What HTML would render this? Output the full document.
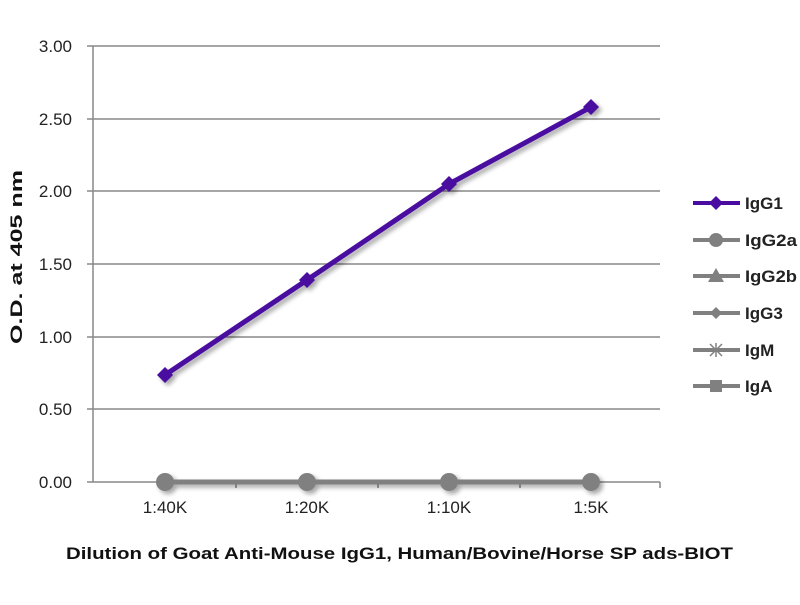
<!DOCTYPE html>
<html><head><meta charset="utf-8"><style>
body{margin:0;background:#fff}
text{font-family:"Liberation Sans",sans-serif}
</style></head><body>
<svg width="800" height="600" xmlns="http://www.w3.org/2000/svg">
<defs><filter id="sh" x="-20%" y="-20%" width="140%" height="140%"><feGaussianBlur in="SourceAlpha" stdDeviation="2.5"/><feOffset dx="3" dy="3"/><feComponentTransfer><feFuncA type="linear" slope="0.35"/></feComponentTransfer><feMerge><feMergeNode/><feMergeNode in="SourceGraphic"/></feMerge></filter></defs>
<g stroke="#888" stroke-width="1.5">
<line x1="87" y1="46" x2="660" y2="46"/><line x1="87" y1="119" x2="660" y2="119"/><line x1="87" y1="191" x2="660" y2="191"/><line x1="87" y1="264" x2="660" y2="264"/><line x1="87" y1="337" x2="660" y2="337"/><line x1="87" y1="409" x2="660" y2="409"/><line x1="87" y1="482" x2="660" y2="482"/>
<line x1="93" y1="46" x2="93" y2="482"/>
<line x1="236" y1="482" x2="236" y2="488"/><line x1="378" y1="482" x2="378" y2="488"/><line x1="520" y1="482" x2="520" y2="488"/><line x1="660" y1="482" x2="660" y2="488"/>
</g>
<g font-size="17" fill="#222" text-anchor="end">
<text x="72" y="52">3.00</text><text x="72" y="125">2.50</text><text x="72" y="197">2.00</text><text x="72" y="270">1.50</text><text x="72" y="343">1.00</text><text x="72" y="415">0.50</text><text x="72" y="488">0.00</text>
</g>
<g font-size="17" fill="#222" text-anchor="middle">
<text x="165" y="513">1:40K</text><text x="307" y="513">1:20K</text><text x="449" y="513">1:10K</text><text x="591" y="513">1:5K</text>
</g>
<text x="66" y="559" font-size="17" font-weight="bold" fill="#111" textLength="667" lengthAdjust="spacingAndGlyphs">Dilution of Goat Anti-Mouse IgG1, Human/Bovine/Horse SP ads-BIOT</text>
<text transform="translate(22,344) rotate(-90)" font-size="17" font-weight="bold" fill="#111" textLength="174" lengthAdjust="spacingAndGlyphs">O.D. at 405 nm</text>
<g filter="url(#sh)">
<polyline points="165,482 307,482 449,482 591,482" fill="none" stroke="#808080" stroke-width="5"/>
<g fill="#808080"><circle cx="165" cy="482" r="9"/><circle cx="307" cy="482" r="9"/><circle cx="449" cy="482" r="9"/><circle cx="591" cy="482" r="9"/></g>
<polyline points="165,375 307,280 449,184 591,107" fill="none" stroke="#4a0ca0" stroke-width="5"/>
<g fill="#4a0ca0">
<path d="M165,367 l8,8 -8,8 -8,-8z"/><path d="M307,272 l8,8 -8,8 -8,-8z"/><path d="M449,176 l8,8 -8,8 -8,-8z"/><path d="M591,99 l8,8 -8,8 -8,-8z"/>
</g>
</g>
<g font-size="17" font-weight="bold" fill="#222">
<line x1="693" y1="203" x2="740" y2="203" stroke="#4a0ca0" stroke-width="4"/><path d="M716,196 l7,7 -7,7 -7,-7z" fill="#4a0ca0"/><text x="745" y="209">IgG1</text>
<line x1="693" y1="240" x2="740" y2="240" stroke="#808080" stroke-width="4"/><circle cx="716" cy="240" r="7" fill="#808080"/><text x="745" y="246" textLength="52" lengthAdjust="spacingAndGlyphs">IgG2a</text>
<line x1="693" y1="276" x2="740" y2="276" stroke="#808080" stroke-width="4"/><path d="M716,268 l8,14 -16,0z" fill="#808080"/><text x="745" y="282" textLength="52" lengthAdjust="spacingAndGlyphs">IgG2b</text>
<line x1="693" y1="313" x2="740" y2="313" stroke="#808080" stroke-width="4"/><path d="M716,307 l6,6 -6,6 -6,-6z" fill="#808080"/><text x="745" y="319">IgG3</text>
<line x1="693" y1="350" x2="740" y2="350" stroke="#808080" stroke-width="4"/><path d="M710,344 l12,12 M722,344 l-12,12 M716,343 v14" stroke="#808080" stroke-width="1.5"/><text x="745" y="356">IgM</text>
<line x1="693" y1="386" x2="740" y2="386" stroke="#808080" stroke-width="4"/><rect x="710" y="380" width="12" height="12" fill="#808080"/><text x="745" y="392">IgA</text>
</g>
</svg>
</body></html>
